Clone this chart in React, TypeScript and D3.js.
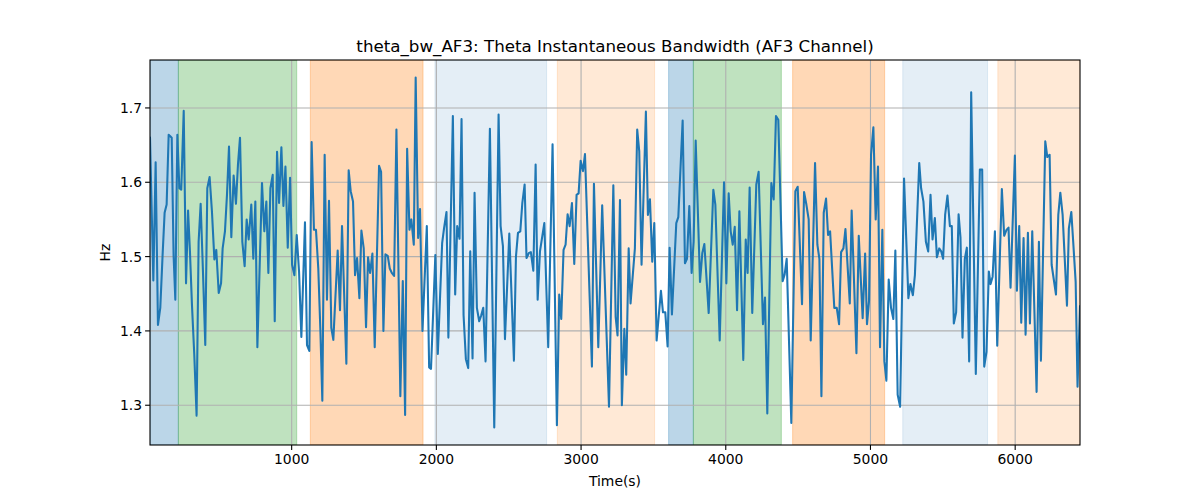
import React from "react";
import * as d3 from "d3";

const TITLE = "theta_bw_AF3: Theta Instantaneous Bandwidth (AF3 Channel)";
const X_LABEL = "Time(s)";
const Y_LABEL = "Hz";

const xTicks = [1000, 2000, 3000, 4000, 5000, 6000];
const yTicks = [1.3, 1.4, 1.5, 1.6, 1.7];

// shaded segments: [start, end, color, alpha]
const spanStarts = [21, 217, 1129, 1990, 2836, 3605, 3776, 4462, 5223, 5880];
const spanEnds = [217, 1035, 1908, 2762, 3508, 3776, 4384, 5098, 5809, 6448];
const spanColors = ["#1f77b4", "#2ca02c", "#ff7f0e", "#1f77b4", "#ff7f0e", "#1f77b4", "#2ca02c", "#ff7f0e", "#1f77b4", "#ff7f0e"];
const spanAlphas = [0.3, 0.3, 0.3, 0.12, 0.17, 0.3, 0.3, 0.3, 0.12, 0.17];

const times = [
  21, 44, 60, 76, 92, 108, 122, 136, 150, 161, 171, 184, 196, 210, 224, 237, 254, 270, 284, 297,
  311, 327, 343, 357, 371, 387, 403, 417, 433, 449, 466, 479, 496, 512, 523, 539, 553, 567, 583, 599,
  615, 629, 643, 659, 675, 689, 703, 721, 735, 749, 763, 781, 795, 811, 825, 839, 853, 869, 883, 899,
  913, 929, 943, 957, 973, 989, 1003, 1019, 1035, 1051, 1067, 1092, 1106, 1122, 1138, 1154, 1168, 1184, 1198, 1212,
  1228, 1244, 1258, 1274, 1288, 1318, 1334, 1348, 1378, 1394, 1408, 1424, 1438, 1452, 1468, 1482, 1498, 1514, 1528, 1542,
  1558, 1574, 1604, 1618, 1634, 1648, 1664, 1678, 1692, 1708, 1724, 1751, 1768, 1784, 1798, 1814, 1827, 1844, 1857, 1874,
  1887, 1904, 1934, 1950, 1963, 1993, 2010, 2040, 2053, 2070, 2083, 2114, 2130, 2144, 2160, 2174, 2188, 2204, 2220, 2234,
  2250, 2264, 2280, 2296, 2310, 2324, 2340, 2370, 2400, 2430, 2444, 2460, 2474, 2504, 2536, 2550, 2564, 2580, 2594, 2610,
  2623, 2640, 2653, 2670, 2686, 2700, 2716, 2746, 2773, 2803, 2833, 2849, 2863, 2879, 2893, 2907, 2921, 2937, 2953, 2969,
  2983, 2997, 3013, 3027, 3075, 3089, 3119, 3146, 3193, 3223, 3239, 3252, 3269, 3282, 3299, 3312, 3329, 3342, 3372, 3388,
  3402, 3418, 3448, 3462, 3476, 3492, 3506, 3522, 3552, 3566, 3582, 3598, 3612, 3628, 3658, 3672, 3702, 3718, 3732, 3748,
  3764, 3778, 3792, 3822, 3838, 3852, 3882, 3914, 3928, 3958, 3988, 4004, 4020, 4034, 4048, 4062, 4078, 4094, 4121, 4138,
  4151, 4165, 4183, 4211, 4227, 4257, 4271, 4287, 4315, 4331, 4347, 4363, 4393, 4407, 4421, 4453, 4481, 4497, 4527, 4541,
  4557, 4573, 4587, 4617, 4633, 4647, 4661, 4677, 4693, 4707, 4721, 4750, 4767, 4783, 4797, 4813, 4827, 4857, 4870, 4903,
  4919, 4946, 4963, 4976, 4990, 5004, 5020, 5036, 5052, 5066, 5082, 5096, 5110, 5126, 5142, 5158, 5172, 5188, 5205, 5232,
  5262, 5276, 5293, 5307, 5337, 5350, 5366, 5383, 5399, 5415, 5429, 5445, 5459, 5475, 5489, 5502, 5516, 5532, 5549, 5562,
  5576, 5592, 5609, 5622, 5636, 5652, 5666, 5682, 5696, 5728, 5756, 5772, 5786, 5802, 5818, 5830, 5844, 5860, 5876, 5908,
  5924, 5940, 5954, 5968, 5998, 6012, 6028, 6042, 6058, 6072, 6088, 6102, 6118, 6148, 6164, 6178, 6208, 6222, 6238, 6252,
  6282, 6298, 6312, 6328, 6358, 6371, 6388, 6401, 6418, 6431, 6448,
];

const bandwidth = [
  1.660, 1.468, 1.627, 1.408, 1.431, 1.502, 1.559, 1.570, 1.664, 1.662, 1.660, 1.502, 1.442, 1.664, 1.592, 1.590, 1.696, 1.464, 1.562, 1.507,
  1.435, 1.368, 1.286, 1.520, 1.571, 1.480, 1.381, 1.592, 1.607, 1.561, 1.496, 1.509, 1.451, 1.464, 1.511, 1.534, 1.583, 1.648, 1.526, 1.609,
  1.571, 1.624, 1.660, 1.520, 1.487, 1.550, 1.523, 1.570, 1.497, 1.574, 1.378, 1.502, 1.599, 1.534, 1.574, 1.478, 1.592, 1.610, 1.413, 1.641,
  1.572, 1.647, 1.568, 1.621, 1.512, 1.606, 1.489, 1.475, 1.529, 1.480, 1.392, 1.546, 1.381, 1.373, 1.654, 1.536, 1.536, 1.484, 1.404, 1.306,
  1.637, 1.442, 1.575, 1.404, 1.388, 1.508, 1.428, 1.541, 1.356, 1.616, 1.588, 1.574, 1.475, 1.498, 1.444, 1.535, 1.511, 1.405, 1.499, 1.478,
  1.504, 1.378, 1.622, 1.614, 1.400, 1.503, 1.501, 1.484, 1.478, 1.474, 1.671, 1.312, 1.467, 1.287, 1.645, 1.536, 1.550, 1.516, 1.741, 1.525,
  1.564, 1.400, 1.541, 1.351, 1.349, 1.502, 1.369, 1.518, 1.538, 1.560, 1.391, 1.689, 1.449, 1.541, 1.524, 1.685, 1.421, 1.362, 1.350, 1.507,
  1.363, 1.586, 1.431, 1.413, 1.421, 1.431, 1.359, 1.672, 1.270, 1.691, 1.541, 1.514, 1.389, 1.531, 1.360, 1.500, 1.532, 1.534, 1.572, 1.597,
  1.498, 1.505, 1.506, 1.481, 1.624, 1.442, 1.507, 1.545, 1.378, 1.651, 1.273, 1.449, 1.416, 1.509, 1.516, 1.557, 1.541, 1.572, 1.490, 1.583,
  1.585, 1.629, 1.615, 1.638, 1.352, 1.598, 1.378, 1.569, 1.298, 1.596, 1.419, 1.394, 1.576, 1.300, 1.403, 1.341, 1.511, 1.437, 1.511, 1.671,
  1.642, 1.489, 1.695, 1.556, 1.577, 1.493, 1.545, 1.387, 1.454, 1.425, 1.425, 1.379, 1.512, 1.422, 1.545, 1.553, 1.683, 1.491, 1.497, 1.568,
  1.478, 1.520, 1.656, 1.466, 1.505, 1.517, 1.424, 1.590, 1.570, 1.387, 1.600, 1.464, 1.585, 1.534, 1.516, 1.540, 1.428, 1.561, 1.361, 1.523,
  1.478, 1.593, 1.424, 1.597, 1.614, 1.409, 1.445, 1.289, 1.599, 1.577, 1.689, 1.684, 1.467, 1.476, 1.497, 1.276, 1.588, 1.594, 1.436, 1.587,
  1.570, 1.550, 1.387, 1.626, 1.516, 1.497, 1.312, 1.559, 1.578, 1.529, 1.534, 1.431, 1.431, 1.409, 1.506, 1.511, 1.537, 1.437, 1.562, 1.370,
  1.528, 1.417, 1.504, 1.409, 1.440, 1.637, 1.674, 1.550, 1.621, 1.378, 1.536, 1.359, 1.333, 1.469, 1.431, 1.416, 1.508, 1.314, 1.298, 1.605,
  1.444, 1.463, 1.448, 1.475, 1.626, 1.592, 1.574, 1.520, 1.507, 1.583, 1.523, 1.552, 1.499, 1.511, 1.507, 1.497, 1.556, 1.582, 1.541, 1.541,
  1.410, 1.425, 1.557, 1.526, 1.391, 1.497, 1.512, 1.359, 1.721, 1.342, 1.617, 1.617, 1.352, 1.372, 1.480, 1.463, 1.473, 1.534, 1.380, 1.591,
  1.528, 1.536, 1.539, 1.458, 1.636, 1.454, 1.541, 1.411, 1.525, 1.395, 1.532, 1.410, 1.534, 1.318, 1.520, 1.360, 1.655, 1.634, 1.637, 1.489,
  1.449, 1.556, 1.586, 1.556, 1.434, 1.538, 1.560, 1.520, 1.466, 1.325, 1.433,
];

const W = 1200;
const H = 500;
const M = { left: 150, right: 1080, top: 60, bottom: 445 };
const FONT = "DejaVu Sans, sans-serif";

export default function App() {
  const x = d3.scaleLinear().domain([21, 6448]).range([M.left, M.right]);
  const y = d3.scaleLinear().domain([1.2465, 1.7645]).range([M.bottom, M.top]);
  const pts: [number, number][] = times.map((t, i) => [t, bandwidth[i]]);
  const line = d3
    .line<[number, number]>()
    .x((d) => x(d[0]))
    .y((d) => y(d[1]));

  return (
    <svg
      width={W}
      height={H}
      style={{ position: "absolute", left: 0, top: 0, background: "#fff" }}
      fontFamily={FONT}
    >
      <rect x={0} y={0} width={W} height={H} fill="#fff" />
      <defs>
        <clipPath id="plot">
          <rect x={M.left} y={M.top} width={M.right - M.left} height={M.bottom - M.top} />
        </clipPath>
      </defs>
      <g clipPath="url(#plot)">
        {spanStarts.map((s, i) => (
          <rect
            key={i}
            x={x(s)}
            y={M.top}
            width={x(spanEnds[i]) - x(s)}
            height={M.bottom - M.top}
            fill={spanColors[i]}
            fillOpacity={spanAlphas[i]}
            stroke={spanColors[i]}
            strokeOpacity={spanAlphas[i]}
            strokeWidth={1}
          />
        ))}
        {xTicks.map((t) => (
          <line key={"gx" + t} x1={x(t)} x2={x(t)} y1={M.top} y2={M.bottom} stroke="#b0b0b0" strokeWidth={1.1} />
        ))}
        {yTicks.map((t) => (
          <line key={"gy" + t} x1={M.left} x2={M.right} y1={y(t)} y2={y(t)} stroke="#b0b0b0" strokeWidth={1.1} />
        ))}
        <path d={line(pts) || ""} fill="none" stroke="#1f77b4" strokeWidth={2.08} strokeLinejoin="round" strokeLinecap="square" />
      </g>
      <rect
        x={M.left}
        y={M.top}
        width={M.right - M.left}
        height={M.bottom - M.top}
        fill="none"
        stroke="#000"
        strokeWidth={1.1}
      />
      {xTicks.map((t) => (
        <g key={"tx" + t}>
          <line x1={x(t)} x2={x(t)} y1={M.bottom} y2={M.bottom + 4.9} stroke="#000" strokeWidth={1.1} />
          <text x={x(t)} y={M.bottom + 19} textAnchor="middle" fontSize={13.9} fill="#000">
            {t}
          </text>
        </g>
      ))}
      {yTicks.map((t) => (
        <g key={"ty" + t}>
          <line x1={M.left - 4.9} x2={M.left} y1={y(t)} y2={y(t)} stroke="#000" strokeWidth={1.1} />
          <text x={M.left - 8} y={y(t) + 5} textAnchor="end" fontSize={13.9} fill="#000">
            {t.toFixed(1)}
          </text>
        </g>
      ))}
      <text x={(M.left + M.right) / 2} y={486} textAnchor="middle" fontSize={13.9} fill="#000">
        {X_LABEL}
      </text>
      <text
        transform={`translate(110, ${(M.top + M.bottom) / 2}) rotate(-90)`}
        textAnchor="middle"
        fontSize={13.9}
        fill="#000"
      >
        {Y_LABEL}
      </text>
      <text x={(M.left + M.right) / 2} y={52} textAnchor="middle" fontSize={16.7} fill="#000">
        {TITLE}
      </text>
    </svg>
  );
}
